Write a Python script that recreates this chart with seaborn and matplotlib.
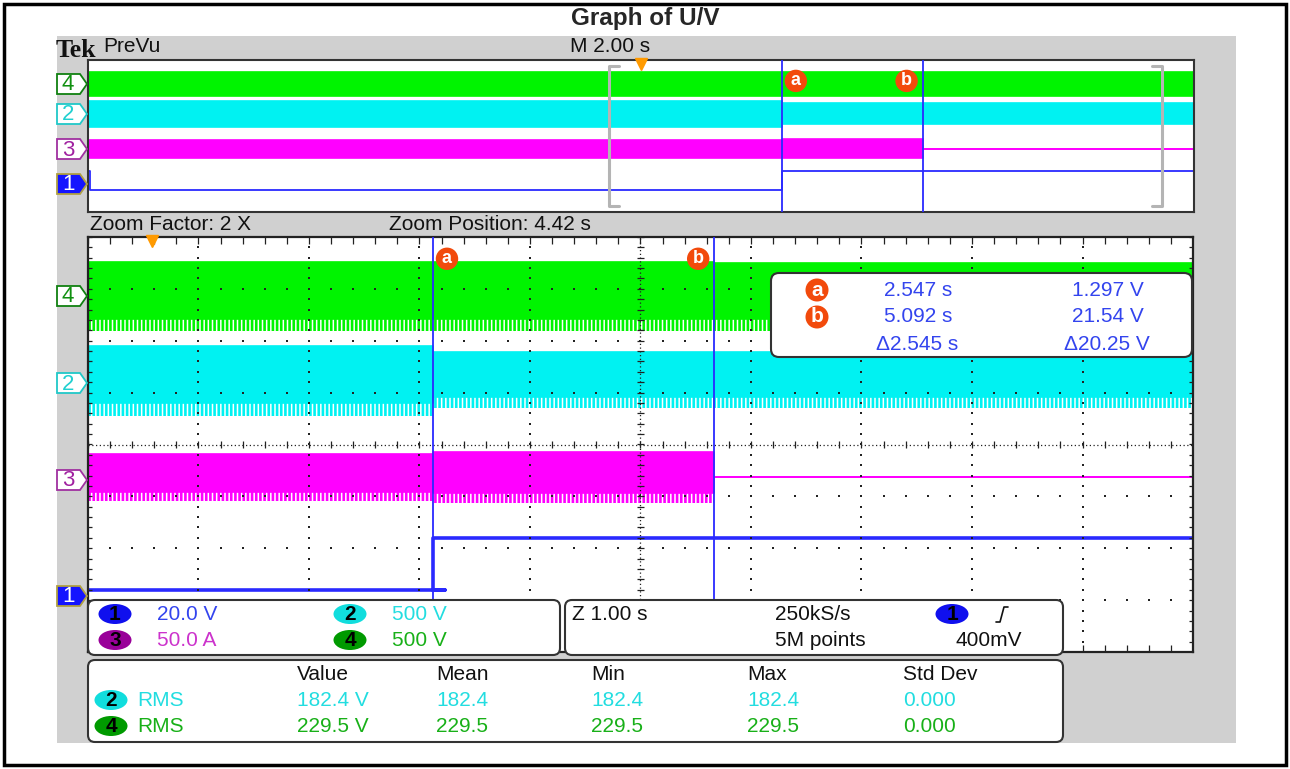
import numpy as np
import matplotlib
matplotlib.use("Agg")
import matplotlib.pyplot as plt
from matplotlib.patches import Rectangle, FancyBboxPatch, Polygon, Ellipse
import seaborn as sns

W, H = 1290, 769

# cursor positions (s after trigger) and readout text
cursor_a = 2.547
cursor_b = 5.092
readout_time = ["2.547 s", "5.092 s", "\u03942.545 s"]
readout_volt = ["1.297 V", "21.54 V", "\u039420.25 V"]

# PreVu strip: full 20 s record, levels in divisions
pre_edges = [-10.0, cursor_a, cursor_b, 10.0]
pre_ch4_top = [3.37, 3.37, 3.37]
pre_ch4_bot = [2.11, 2.11, 2.11]
pre_ch2_top = [1.84, 1.74, 1.74]
pre_ch2_bot = [0.47, 0.63, 0.63]
pre_ch3_top = [-0.21, -0.16, -0.66]
pre_ch3_bot = [-1.16, -1.16, -0.66]
pre_ch1_t = [-10.0, -9.96, cursor_a, 10.0]
pre_ch1 = [-1.84, -2.84, -1.84, -1.84]

# zoom window: Z 1.00 s/div, position 4.42 s
zoom_edges = [-0.575, cursor_a, cursor_b, 9.425]
ch4_top = [3.52, 3.52, 3.50]
ch4_body = [2.42, 2.42, 2.42]
ch4_bot = [2.19, 2.19, 2.19]
ch2_top = [1.90, 1.78, 1.78]
ch2_body = [0.80, 0.92, 0.92]
ch2_bot = [0.55, 0.71, 0.71]
ch3_top = [-0.18, -0.14, -0.63]
ch3_body = [-0.92, -0.93, -0.63]
ch3_bot = [-1.09, -1.13, -0.63]
ch1_t = [-0.575, 2.66, cursor_a, 9.425]
ch1_lvl = [-2.80, -2.80, -1.81, -1.81]

# channel settings and measurements
scale_labels = ["20.0 V", "500 V", "50.0 A", "500 V"]
meas_headers = ["Value", "Mean", "Min", "Max", "Std Dev"]
meas_ch2 = ["182.4 V", "182.4", "182.4", "182.4", "0.000"]
meas_ch4 = ["229.5 V", "229.5", "229.5", "229.5", "0.000"]

GREEN = "#00f400"
CYAN = "#00f2f2"
MAGENTA = "#ff00ff"
BLUE = "#2a2aff"
T_BLUE = "#3344ee"
T_CYAN = "#22dde0"
T_GREEN = "#18b018"
T_MAG = "#cc33cc"
ORANGE = "#ff9a00"
RED = "#f24a0c"
GRID = "#222222"

sns.set_style("white")
plt.rcParams["hatch.linewidth"] = 1.9
FONT = ["Liberation Sans", "DejaVu Sans"]


def stp(v):
    return list(v) + [v[-1]]


def rect(x0, y0, x1, y1):
    return [x0 / W, 1 - y1 / H, (x1 - x0) / W, (y1 - y0) / H]


fig = plt.figure(figsize=(W / 100, H / 100), dpi=100)

# background layer
bg = fig.add_axes([0, 0, 1, 1])
bg.set_xlim(0, W)
bg.set_ylim(H, 0)
bg.axis("off")
bg.add_patch(Rectangle((4, 4), 1282, 761, fc="white", ec="black", lw=2.5))
bg.add_patch(Rectangle((57, 36), 1179, 707, fc="#d0d0d0", ec="none"))
bg.text(645, 19, "Graph of U/V", ha="center", va="center", fontsize=17.5,
        fontweight="bold", family=FONT)

# ---- PreVu strip
up = fig.add_axes(rect(88, 60, 1194, 212))
up.set_facecolor("white")
up.set_xlim(pre_edges[0], pre_edges[-1])
up.set_ylim(-4, 4)
up.set_xticks([])
up.set_yticks([])
for s in up.spines.values():
    s.set_color("#333333")
    s.set_linewidth(1.5)

for top, bot, col in [(pre_ch4_top, pre_ch4_bot, GREEN),
                      (pre_ch2_top, pre_ch2_bot, CYAN),
                      (pre_ch3_top, pre_ch3_bot, MAGENTA)]:
    up.fill_between(pre_edges, stp(bot), stp(top), step="post", fc=col,
                    ec=col, lw=1.2, zorder=1)
sns.lineplot(x=pre_ch1_t, y=pre_ch1, drawstyle="steps-post", estimator=None,
             sort=False, color=BLUE, lw=1.3, ax=up, zorder=2)
for t in (cursor_a, cursor_b):
    up.axvline(t, color=BLUE, lw=1.3, zorder=4)
# zoom brackets
zl, zr = zoom_edges[0], zoom_edges[-1]
up.plot([zl + 0.18, zl, zl, zl + 0.18], [3.68, 3.68, -3.68, -3.68],
        color="#b4b4b4", lw=2.2, zorder=3)
up.plot([zr - 0.18, zr, zr, zr - 0.18], [3.68, 3.68, -3.68, -3.68],
        color="#b4b4b4", lw=2.2, zorder=3)
up.plot(0, 3.8, marker="v", ms=9, color=ORANGE, mec=ORANGE, clip_on=False,
        zorder=5)
for lab, t, dx in [("a", cursor_a, 14), ("b", cursor_b, -16)]:
    up.annotate(lab, xy=(t, 2.9), xytext=(dx, 0), textcoords="offset pixels",
                ha="center", va="center", color="white", fontsize=13,
                fontweight="bold", family=FONT, zorder=6,
                bbox=dict(boxstyle="circle,pad=0.15", fc=RED, ec="none"))

# ---- zoomed graticule
lo = fig.add_axes(rect(88, 237, 1193, 652))
lo.set_facecolor("white")
lo.set_xlim(zoom_edges[0], zoom_edges[-1])
lo.set_ylim(-4, 4)
lo.set_xticks([])
lo.set_yticks([])
for s in lo.spines.values():
    s.set_color("#222222")
    s.set_linewidth(1.6)

for top, body, bot, col in [(ch4_top, ch4_body, ch4_bot, GREEN),
                            (ch2_top, ch2_body, ch2_bot, CYAN),
                            (ch3_top, ch3_body, ch3_bot, MAGENTA)]:
    lo.fill_between(zoom_edges, stp(body), stp(top), step="post", fc=col,
                    ec=col, lw=1.2, zorder=1)
    lo.fill_between(zoom_edges, stp(bot), stp(body), step="post", fc="none",
                    ec=col, hatch="||||", lw=0, zorder=1)
sns.lineplot(x=ch1_t, y=ch1_lvl, drawstyle="steps-post",
             estimator=None, sort=False, color=BLUE, lw=2.6, ax=lo, zorder=2)

t0 = zoom_edges[0]
minor_y = np.arange(-4, 4.001, 0.2)
minor_x = t0 + np.arange(0, 10.001, 0.2)
px, py = [], []
for k in range(1, 10):
    if k != 5:
        px += [t0 + k] * len(minor_y)
        py += list(minor_y)
for j in (-3, -2, -1, 1, 2, 3):
    px += list(minor_x)
    py += [j] * len(minor_x)
lo.scatter(px, py, s=1.6, marker="s", color=GRID, lw=0, zorder=3)
cx = t0 + 5
lo.axhline(0, color=GRID, lw=0.9, ls=(0, (1, 2)), zorder=3)
lo.axvline(cx, color=GRID, lw=0.9, ls=(0, (1, 2)), zorder=3)
lo.vlines(minor_x, -0.07, 0.07, color=GRID, lw=0.9, zorder=3)
lo.hlines(minor_y, cx - 0.035, cx + 0.035, color=GRID, lw=0.9, zorder=3)
lo.hlines(minor_y, t0, t0 + 0.035, color=GRID, lw=0.9, zorder=3)
lo.hlines(minor_y, zoom_edges[-1] - 0.035, zoom_edges[-1], color=GRID,
          lw=0.9, zorder=3)
lo.vlines(minor_x, 3.86, 4, color=GRID, lw=0.9, zorder=3)
lo.vlines(minor_x, -4, -3.86, color=GRID, lw=0.9, zorder=3)
for t in (cursor_a, cursor_b):
    lo.axvline(t, color=BLUE, lw=1.3, zorder=4)
lo.plot(0, 3.92, marker="v", ms=9, color=ORANGE, mec=ORANGE, clip_on=False,
        zorder=5)
for lab, t, dx in [("a", cursor_a, 14), ("b", cursor_b, -16)]:
    lo.annotate(lab, xy=(t, 3.58), xytext=(dx, 0), textcoords="offset pixels",
                ha="center", va="center", color="white", fontsize=13,
                fontweight="bold", family=FONT, zorder=6,
                bbox=dict(boxstyle="circle,pad=0.15", fc=RED, ec="none"))

# ---- foreground layer (labels, boxes, readouts)
fg = fig.add_axes([0, 0, 1, 1])
fg.set_zorder(10)
fg.patch.set_visible(False)
fg.set_xlim(0, W)
fg.set_ylim(H, 0)
fg.axis("off")

TXT = dict(family=FONT, fontsize=15, va="center")
fg.text(56, 57, "Tek", family=["Liberation Serif", "DejaVu Serif"],
        fontsize=18.5, fontweight="bold", va="baseline", color="#111111")
fg.text(103, 46, "PreVu", color="#111111", **TXT)
fg.text(570, 46, "M 2.00 s", color="#111111", **TXT)
fg.text(90, 225, "Zoom Factor: 2 X", color="#111111", **TXT)
fg.text(389, 225, "Zoom Position: 4.42 s", color="#111111", **TXT)


def tag(y, num, edge, face, tc):
    pts = [(57, y - 10), (80, y - 10), (87, y), (80, y + 10), (57, y + 10)]
    fg.add_patch(Polygon(pts, closed=True, fc=face, ec=edge, lw=1.3))
    fg.text(68, y + 1, num, ha="center", color=tc, family=FONT, fontsize=16,
            va="center")


for ys in [(84, 114, 149, 184), (296, 383, 480, 596)]:
    tag(ys[0], "4", "#108010", "white", "#109010")
    tag(ys[1], "2", "#20c8c8", "white", "#20d0d0")
    tag(ys[2], "3", "#a030a0", "white", "#a020a0")
    tag(ys[3], "1", "#b0a040", "#1414ff", "white")

# cursor readout box
fg.add_patch(FancyBboxPatch((771, 273), 421, 84,
                            boxstyle="round,pad=0,rounding_size=8",
                            fc="white", ec="#333333", lw=1.5))
for i, (lab, yy) in enumerate([("a", 290), ("b", 317), (None, 345)]):
    if lab:
        fg.add_patch(Ellipse((817, yy), 23, 23, fc=RED, ec="none"))
        fg.text(817, yy, lab, ha="center", color="white", fontweight="bold",
                **TXT)
    fg.text(952 + (6 if i == 2 else 0), yy, readout_time[i], ha="right",
            color=T_BLUE, **TXT)
    fg.text(1144 + (6 if i == 2 else 0), yy, readout_volt[i], ha="right",
            color=T_BLUE, **TXT)

# channel scale / timebase / measurement boxes
for x0, y0, w, h in [(88, 600, 472, 55), (565, 600, 498, 55),
                     (88, 660, 975, 82)]:
    fg.add_patch(FancyBboxPatch((x0, y0), w, h,
                                boxstyle="round,pad=0,rounding_size=7",
                                fc="white", ec="#333333", lw=1.5))


def badge(x, y, num, face):
    fg.add_patch(Ellipse((x, y), 33, 20, fc=face, ec="none"))
    fg.text(x, y + 1, num, ha="center", color="black", fontweight="bold",
            **TXT)


badge(115, 614, "1", "#1010ee")
fg.text(157, 614, scale_labels[0], color=T_BLUE, **TXT)
badge(350, 614, "2", "#11dddd")
fg.text(392, 614, scale_labels[1], color=T_CYAN, **TXT)
badge(115, 640, "3", "#990099")
fg.text(157, 640, scale_labels[2], color=T_MAG, **TXT)
badge(350, 640, "4", "#009a00")
fg.text(392, 640, scale_labels[3], color=T_GREEN, **TXT)

fg.text(572, 614, "Z 1.00 s", color="#111111", **TXT)
fg.text(775, 614, "250kS/s", color="#111111", **TXT)
fg.text(775, 641, "5M points", color="#111111", **TXT)
badge(952, 614, "1", "#1010ee")
fg.plot([996, 1000, 1004, 1008], [622, 622, 607, 607], color="#111111",
        lw=1.2)
fg.text(956, 641, "400mV", color="#111111", **TXT)

col_x = [297, 436, 591, 747, 903]
for x, s in zip(col_x, meas_headers):
    fg.text(x, 675, s, color="#111111", **TXT)
badge(111, 700, "2", "#11dddd")
fg.text(137, 700, "RMS", color=T_CYAN, **TXT)
badge(111, 726, "4", "#009a00")
fg.text(137, 726, "RMS", color=T_GREEN, **TXT)
for x, a, b in zip(col_x, meas_ch2, meas_ch4):
    fg.text(x, 700, a, color=T_CYAN, **TXT)
    fg.text(x, 726, b, color=T_GREEN, **TXT)

fig.savefig("out.png", dpi=100)
